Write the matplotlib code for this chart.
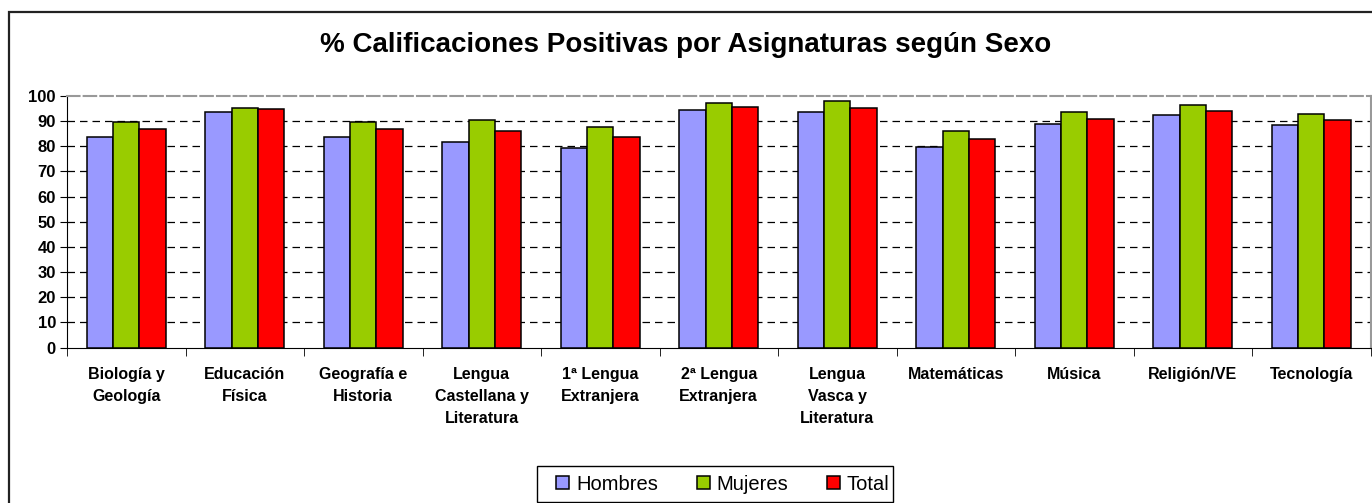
import matplotlib
matplotlib.use("Agg")
import matplotlib.pyplot as plt
import matplotlib.patches as mpatches
import numpy as np

plt.rcParams['font.family'] = ['Liberation Sans', 'DejaVu Sans']

categories = ["Biología y\nGeología", "Educación\nFísica", "Geografía e\nHistoria",
              "Lengua\nCastellana y\nLiteratura", "1ª Lengua\nExtranjera", "2ª Lengua\nExtranjera",
              "Lengua\nVasca y\nLiteratura", "Matemáticas", "Música", "Religión/VE", "Tecnología"]
hombres = [83.5, 93.6, 83.5, 81.7, 79.2, 94.3, 93.6, 79.7, 88.8, 92.5, 88.3]
mujeres = [89.8, 95.1, 89.8, 90.5, 87.6, 97.3, 98.0, 86.0, 93.6, 96.3, 92.9]
total = [86.7, 94.7, 86.7, 86.0, 83.5, 95.6, 95.2, 82.9, 90.9, 94.1, 90.5]
series_names = ["Hombres", "Mujeres", "Total"]
colors = ["#9999FF", "#99CC00", "#FF0000"]
yticks = list(range(0, 101, 10))

fig = plt.figure(figsize=(13.72, 5.03), dpi=100)
ax = fig.add_axes([67/1372, 1-347.5/503, 1303.5/1372, 251.5/503])

# outer chart border
fig.patches.append(mpatches.Rectangle((9/1372, -0.05), 1.1, 1-11.5/503+0.05,
                                      transform=fig.transFigure, fill=False,
                                      edgecolor="#222222", lw=1.6, clip_on=False))

x = np.arange(len(categories))
w = 0.222
for k, (vals, name, c) in enumerate(zip([hombres, mujeres, total], series_names, colors)):
    ax.bar(x + (k-1)*w, vals, width=w, color=c, edgecolor="black", linewidth=1.1,
           label=name, zorder=3)

ax.set_xlim(-0.5, len(categories)-0.5)
ax.set_ylim(0, 100)
ax.set_yticks(yticks)
ax.set_yticklabels([str(v) for v in yticks], fontsize=12, fontweight="bold")
for v in yticks[1:-1]:
    ax.axhline(v, color="black", lw=0.9, dashes=(6, 4), zorder=1)

ax.set_xticks(x)
ax.set_xticklabels(categories, fontsize=11.5, fontweight="bold", linespacing=1.6)
ax.tick_params(axis="x", length=0, pad=14)
ax.set_xticks(np.arange(-0.5, len(categories)), minor=True)
ax.tick_params(axis="x", which="minor", length=6, direction="out", color="black")
ax.tick_params(axis="y", length=5, direction="out", pad=3)

ax.spines["left"].set_color("black")
ax.spines["bottom"].set_color("black")
ax.spines["top"].set_color("#999999")
ax.spines["top"].set_linestyle((0, (6, 2)))
ax.spines["top"].set_linewidth(1.5)
ax.spines["right"].set_color("#999999")
ax.spines["right"].set_linewidth(1.5)

fig.text(0.5, 1-45/503, "% Calificaciones Positivas por Asignaturas según Sexo",
         ha="center", va="center", fontsize=20, fontweight="bold")

# legend frame (drawn separately, as in the reference the content sits right of centre)
fig.patches.append(mpatches.Rectangle((537/1372, 1-502/503), 356/1372, 36/503,
                                      transform=fig.transFigure, fill=False,
                                      edgecolor="black", lw=1.0))
leg = fig.legend(loc="center", bbox_to_anchor=(723/1372, 1-484/503), ncol=3,
                 fontsize=14.5, frameon=False,
                 handlelength=0.65, handleheight=0.65, handletextpad=0.35,
                 columnspacing=1.9, borderpad=0.3)

fig.savefig("out.png", dpi=100)
